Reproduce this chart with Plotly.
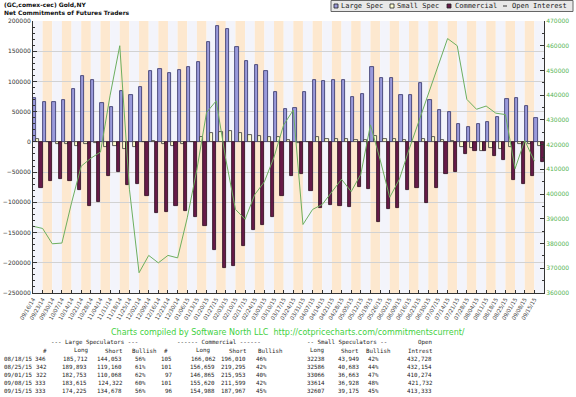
import plotly.graph_objects as go

# ---------------- data ----------------
dates = ["09/16/14","09/23/14","09/30/14","10/07/14","10/14/14","10/21/14","10/28/14",
         "11/04/14","11/11/14","11/18/14","11/25/14","12/02/14","12/09/14","12/16/14",
         "12/23/14","12/30/14","01/06/15","01/13/15","01/20/15","01/27/15","02/03/15",
         "02/10/15","02/17/15","02/24/15","03/03/15","03/10/15","03/17/15","03/24/15",
         "03/31/15","04/07/15","04/14/15","04/21/15","04/28/15","05/05/15","05/12/15",
         "05/19/15","05/26/15","06/02/15","06/09/15","06/16/15","06/23/15","06/30/15",
         "07/07/15","07/14/15","07/21/15","07/28/15","08/04/15","08/11/15","08/18/15",
         "08/25/15","09/01/15","09/08/15","09/15/15"]

large_spec = [73000, 65300, 66300, 68700, 87000, 109700, 102500, 64700, 57500, 83700,
              77500, 90800, 118000, 120800, 113700, 118700, 124700, 132500, 165300, 192000,
              187500, 157500, 134200, 127500, 117000, 83000, 54200, 55300, 82000, 102500,
              100300, 103000, 103000, 74200, 78700, 124700, 106300, 106300, 77000, 77500,
              97000, 69200, 52000, 48700, 29200, 25300, 30300, 33700, 41659, 70733,
              72685, 59293, 39547]

small_spec = [4000, 500, -4000, -3500, -6000, -3500, -2500, -8000, -6500, -11000,
              -8000, -500, 1500, -4000, -6000, -3000, 500, 7500, 15000, 17000,
              18000, 15500, 12000, 10000, 8000, 7500, 3500, -1500, -500, 7500,
              5000, 4500, 5500, 2500, 2500, 10000, 5500, 4500, 3000, -500,
              5500, 7500, 2500, 800, -8000, -10500, -15000, -9500, -11711, -8097,
              -3597, -3314, -6568]

commercial = [-77000, -65300, -60800, -64200, -79200, -105800, -99200, -55800, -50300, -71400,
              -69200, -90300, -117000, -115800, -105800, -114200, -123600, -138600, -179200, -208000,
              -204700, -172000, -145300, -136900, -124200, -89700, -57000, -53000, -81400, -109200,
              -104700, -105800, -108100, -74700, -78100, -133100, -110800, -108600, -79200, -77000,
              -101400, -75800, -53000, -49200, -20300, -14700, -14700, -23600, -29948, -62636,
              -69088, -55979, -32979]

open_interest = [387000, 386100, 379900, 380200, 396500, 411300, 414500, 417000, 440000, 460000,
                 402000, 368200, 375200, 372200, 375200, 374200, 390400, 410000, 433000, 437700,
                 414000, 393800, 389800, 399800, 405000, 415000, 428000, 434000, 387700, 393800,
                 395800, 401000, 406000, 401000, 408000, 428000, 414000, 398700, 406000, 418000,
                 429000, 440000, 451000, 462900, 460000, 438300, 434300, 435600, 432728, 432154,
                 410274, 421732, 413333]

# summary table
tbl_dates   = ["08/18/15", "08/25/15", "09/01/15", "09/08/15", "09/15/15"]
ls_n        = ["346", "342", "322", "333", "333"]
ls_long     = ["185,712", "189,893", "182,753", "183,615", "174,225"]
ls_short    = ["144,053", "119,160", "110,068", "124,322", "134,678"]
ls_bull     = ["56%", "61%", "62%", "60%", "56%"]
cm_n        = ["105", "101", "97", "101", "96"]
cm_long     = ["166,062", "156,659", "146,865", "155,620", "154,988"]
cm_short    = ["196,010", "219,295", "215,953", "211,599", "187,967"]
cm_bull     = ["46%", "42%", "40%", "42%", "45%"]
ss_long     = ["32238", "32586", "33066", "33614", "32607"]
ss_short    = ["43,949", "40,683", "36,663", "36,928", "39,175"]
ss_bull     = ["42%", "44%", "47%", "48%", "45%"]
oi_tbl      = ["432,728", "432,154", "410,274", "421,732", "413,333"]

title_lines = ["(GC,comex-cec) Gold,NY", "Net Commitments of Futures Traders"]
legend_names = ["Large Spec", "Small Spec", "Commercial", "Open Interest"]
credit = "Charts compiled by Software North LLC  http://cotpricecharts.com/commitmentscurrent/"

# ---------------- styling ----------------
W, H = 576, 397
L_, R_, T_, B_ = 33, 544, 21, 293
def px(x):
    return (x - L_) / (R_ - L_)
def py(y):
    return (B_ - y) / (B_ - T_)

C_LARGE = "#9A9ADB"
C_SMALL = "#FFFFD0"
C_COMM = "#661A48"
C_OI = "#6DAF5F"
STRIPE_A = "#F3F4FB"
STRIPE_B = "#FDE8CF"

n = len(dates)
idx = list(range(n))
xbar = [i + 0.5 for i in idx]

fig = go.Figure()
fig.add_trace(go.Bar(x=xbar, y=large_spec, name=legend_names[0],
                     marker=dict(color=C_LARGE, line=dict(color="#2E2E66", width=0.8))))
fig.add_trace(go.Bar(x=xbar, y=small_spec, name=legend_names[1],
                     marker=dict(color=C_SMALL, line=dict(color="#333333", width=0.8))))
fig.add_trace(go.Bar(x=xbar, y=commercial, name=legend_names[2],
                     marker=dict(color=C_COMM, line=dict(color="#2A0A1C", width=0.8))))
fig.add_trace(go.Scatter(x=idx, y=open_interest, name=legend_names[3], yaxis="y2",
                         mode="lines", line=dict(color=C_OI, width=1)))

shapes = []
for i in idx:
    shapes.append(dict(type="rect", xref="x", yref="paper", x0=i, x1=i + 1, y0=0, y1=1,
                       fillcolor=STRIPE_B if i % 2 else STRIPE_A, line=dict(width=0),
                       layer="below"))

annotations = []
# title
for j, t in enumerate(title_lines):
    annotations.append(dict(text="<b>" + t + "</b>", xref="paper", yref="paper",
                            x=px(2), y=py(4.5 + 8 * j),
                            xanchor="left", yanchor="middle", showarrow=False,
                            font=dict(family="DejaVu Sans", size=6, color="#111111")))
# legend box
shapes.append(dict(type="rect", xref="paper", yref="paper", x0=px(331), x1=px(573),
                   y0=py(11.5), y1=py(0.5), fillcolor="#E8E8E8",
                   line=dict(color="#666666", width=1), layer="above"))
leg_sym_x = [334, 390, 447, 503]
leg_txt_x = [339, 395, 453, 510]
leg_cols = [C_LARGE, C_SMALL, C_COMM, None]
for k in range(4):
    if leg_cols[k] is not None:
        shapes.append(dict(type="rect", xref="paper", yref="paper",
                           x0=px(leg_sym_x[k]), x1=px(leg_sym_x[k] + 4),
                           y0=py(8), y1=py(4), fillcolor=leg_cols[k],
                           line=dict(color="#222222", width=0.8), layer="above"))
    else:
        shapes.append(dict(type="line", xref="paper", yref="paper",
                           x0=px(leg_sym_x[k]), x1=px(leg_sym_x[k] + 4),
                           y0=py(6), y1=py(6), line=dict(color="#333333", width=1),
                           layer="above"))
    annotations.append(dict(text=legend_names[k], xref="paper", yref="paper",
                            x=px(leg_txt_x[k]), y=py(6), xanchor="left", yanchor="middle",
                            showarrow=False,
                            font=dict(family="DejaVu Sans Mono", size=7, color="#222222")))

# credit line
annotations.append(dict(text=credit, xref="paper", yref="paper", x=px(288), y=py(332.5),
                        xanchor="center", yanchor="middle", showarrow=False,
                        font=dict(family="DejaVu Sans", size=8, color="#3FD13F")))

# table
TF = dict(family="DejaVu Sans Mono", size=5.8, color="#222222")
def tcell(text, x, y, anchor="right"):
    annotations.append(dict(text=text, xref="paper", yref="paper", x=px(x), y=py(y),
                            xanchor=anchor, yanchor="middle", showarrow=False, font=TF))

hy1, hy2 = 342, 350.5
tcell("--- Large Speculators ---", 94, hy1, "center")
tcell("------ Commercial ------", 219, hy1, "center")
tcell("-- Small Speculators --", 347, hy1, "center")
tcell("Open", 434, hy1)
for txt, x in [("#", 49), ("Long", 90), ("Short", 124), ("Bullish", 158),
               ("#", 170), ("Long", 212), ("Short", 248), ("Bullish", 284),
               ("Long", 326), ("Short", 360), ("Bullish", 392), ("Intrest", 434)]:
    tcell(txt, x, hy2)

cols = [(tbl_dates, 2, "left"), (ls_n, 48, "right"), (ls_long, 89, "right"),
        (ls_short, 124, "right"), (ls_bull, 148, "right"), (cm_n, 174, "right"),
        (cm_long, 217, "right"), (cm_short, 248, "right"), (cm_bull, 269, "right"),
        (ss_long, 327, "right"), (ss_short, 361, "right"), (ss_bull, 381, "right"),
        (oi_tbl, 434, "right")]
for r in range(len(tbl_dates)):
    yy = 359 + 8 * r
    for vals, x, anc in cols:
        tcell(vals[r], x, yy, anc)

fig.update_layout(
    width=W, height=H, autosize=False,
    margin=dict(l=L_, r=W - R_, t=T_, b=H - B_, pad=0, autoexpand=False),
    paper_bgcolor="white", plot_bgcolor="white",
    barmode="group", bargap=0, bargroupgap=0,
    showlegend=False,
    shapes=shapes, annotations=annotations,
    xaxis=dict(range=[0, n], tickmode="array", tickvals=idx, ticktext=dates,
               tickangle=-60, ticks="inside", ticklen=3, tickcolor="#333333",
               showline=True, linecolor="#333333", linewidth=1, showgrid=False,
               zeroline=False, automargin=False,
               tickfont=dict(family="DejaVu Sans", size=5.5, color="#444444")),
    yaxis=dict(range=[-250000, 200000], tickmode="linear", tick0=0, dtick=50000,
               ticks="inside", ticklen=4, tickcolor="#333333",
               minor=dict(dtick=10000, ticks="inside", ticklen=2, tickcolor="#333333",
                          showgrid=False),
               showline=True, linecolor="#333333", linewidth=1,
               showgrid=True, gridcolor="#D2D2D2", gridwidth=1, zeroline=False,
               tickformat="d", automargin=False,
               tickfont=dict(family="DejaVu Sans", size=6, color="#333333")),
    yaxis2=dict(range=[360000, 470000], tickmode="linear", tick0=360000, dtick=10000,
                overlaying="y", side="right", ticks="inside", ticklen=4,
                tickcolor="#333333",
                minor=dict(dtick=5000, ticks="inside", ticklen=2, tickcolor="#333333"),
                showline=True, linecolor="#333333", linewidth=1, showgrid=False,
                zeroline=False, tickformat="d", automargin=False,
                tickfont=dict(family="DejaVu Sans", size=6, color="#55B455")),
)

fig.write_html("out.html", config={"displayModeBar": False},
               post_script="document.body.style.margin='0';document.body.style.padding='0';document.documentElement.style.overflow='hidden';")
